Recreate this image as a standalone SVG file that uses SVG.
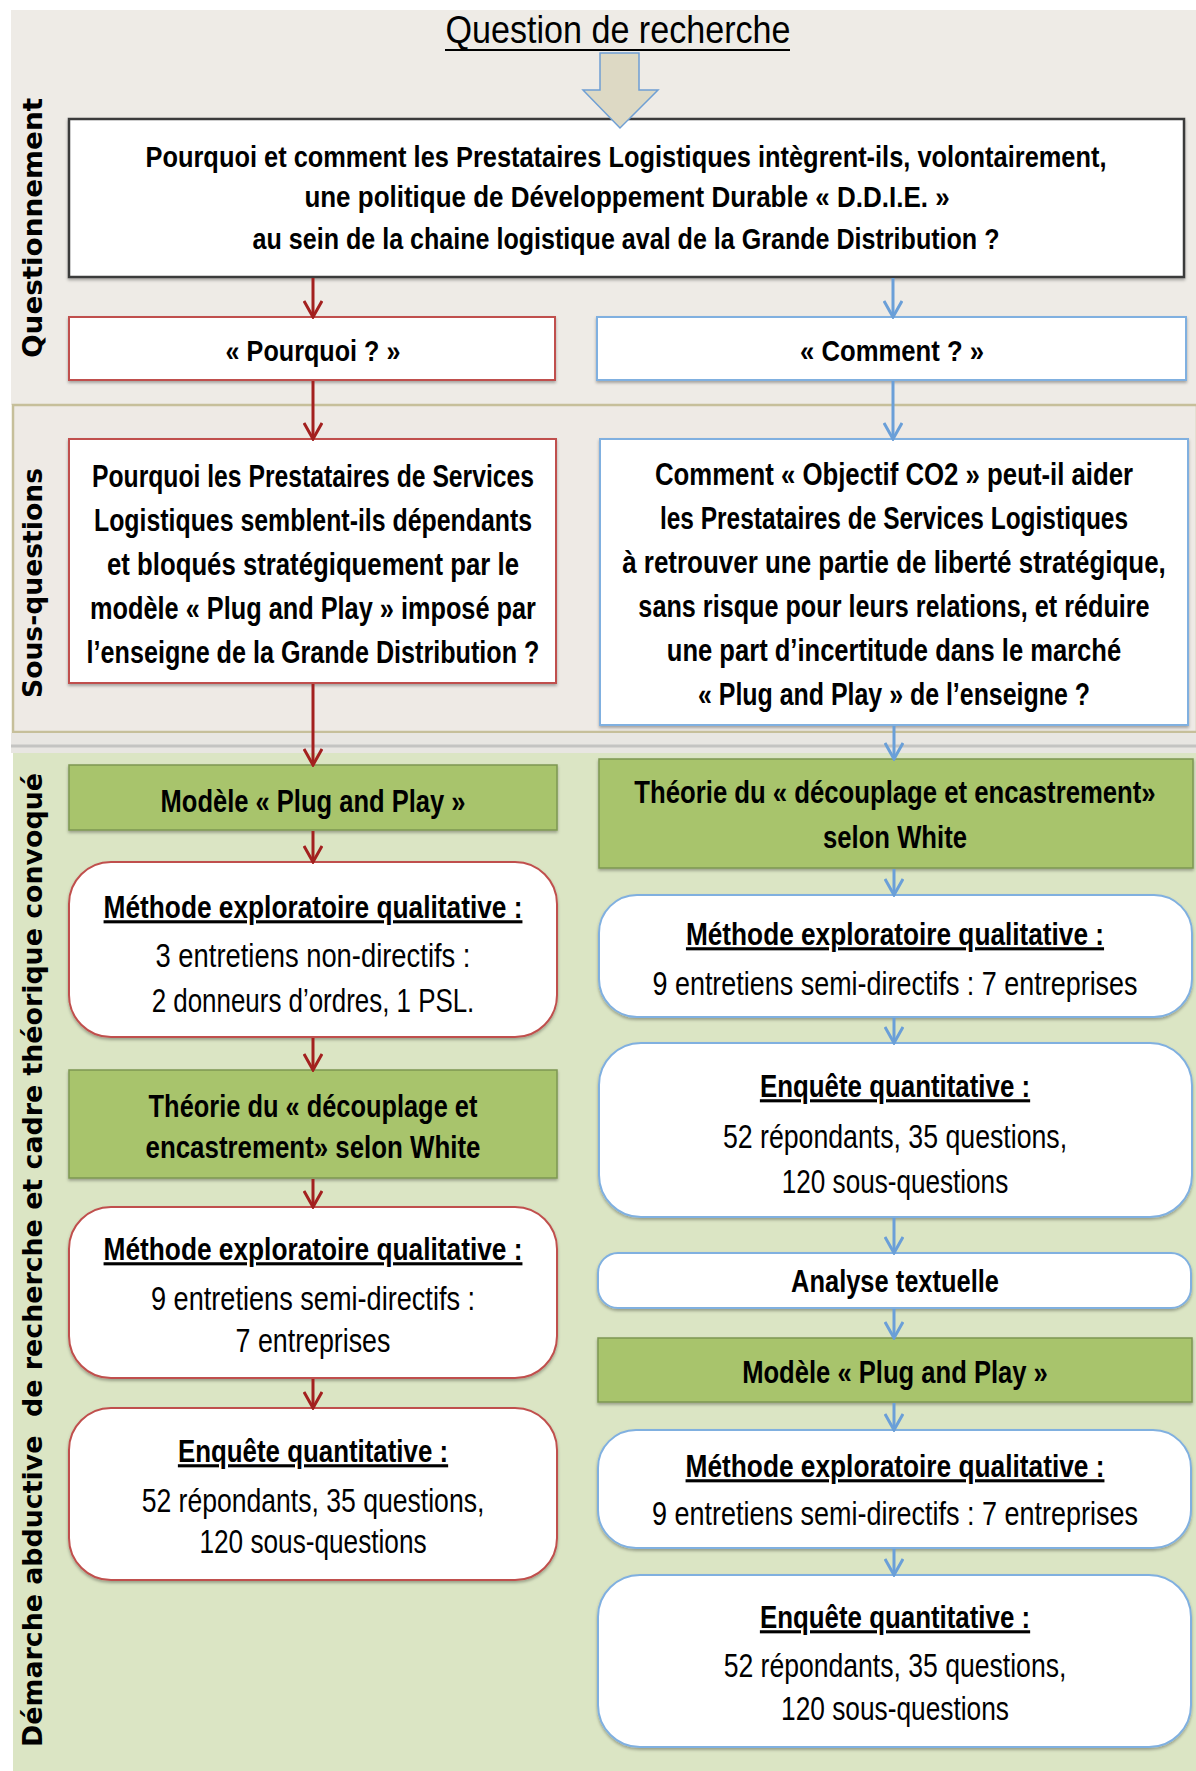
<svg xmlns="http://www.w3.org/2000/svg" width="1196" height="1771" viewBox="0 0 1196 1771">
<defs>
<style>
.t{font-family:"Liberation Sans Narrow","Liberation Sans",Arial,sans-serif;fill:#000;text-anchor:middle}
.b{font-weight:bold}
.u{text-decoration:underline}
.s28{font-size:29.5px}
.s30{font-size:31px}
.s31{font-size:31.5px}
.s32{font-size:33.5px}
.lab{font-family:"DejaVu Sans",Verdana,sans-serif;font-weight:bold;font-size:26px;fill:#000;text-anchor:middle;white-space:pre}
.red{fill:#fff;stroke:#c0504d;stroke-width:2}
.blue{fill:#fff;stroke:#80b0e0;stroke-width:2}
.green{fill:#a8c46c;stroke:#7d9752;stroke-width:1.5}
.cr{stroke:#a3201f;stroke-width:3;fill:none;marker-end:url(#mr)}
.cb{stroke:#6a9fd8;stroke-width:3;fill:none;marker-end:url(#mb)}
</style>
<marker id="mr" viewBox="0 0 20 20" refX="18" refY="10" markerWidth="20" markerHeight="20" markerUnits="userSpaceOnUse" orient="auto">
<path d="M2,1 L18,10 L2,19" fill="none" stroke="#a3201f" stroke-width="3"/>
</marker>
<marker id="mb" viewBox="0 0 20 20" refX="18" refY="10" markerWidth="20" markerHeight="20" markerUnits="userSpaceOnUse" orient="auto">
<path d="M2,1 L18,10 L2,19" fill="none" stroke="#6a9fd8" stroke-width="3"/>
</marker>
<filter id="sh" x="-5%" y="-10%" width="110%" height="130%">
<feDropShadow dx="0" dy="2" stdDeviation="1.5" flood-color="#000" flood-opacity="0.3"/>
</filter>
</defs>

<g id="panels">
<rect x="0" y="0" width="1196" height="1771" fill="#ffffff"/>
<rect x="11" y="10" width="1185" height="395" fill="#eeebe6"/>
<rect x="13" y="405" width="1184" height="327" fill="#eeeae5" stroke="#c6bf9a" stroke-width="2.5"/>
<rect x="11" y="733" width="1185" height="20" fill="#e8e6e2"/>
<line x1="11" y1="746" x2="1196" y2="746" stroke="#c4c4c2" stroke-width="3"/>
<rect x="13" y="753" width="1183" height="1018" fill="#dbe5c4"/>
</g>

<g id="labels">
<text class="lab" transform="translate(42,228) rotate(-90)" textLength="260" lengthAdjust="spacingAndGlyphs">Questionnement</text>
<text class="lab" transform="translate(42,583) rotate(-90)" textLength="230" lengthAdjust="spacingAndGlyphs">Sous-questions</text>
<text class="lab" transform="translate(42,1260) rotate(-90)" textLength="974" lengthAdjust="spacingAndGlyphs">Démarche abductive  de recherche et cadre théorique convoqué</text>
</g>

<g id="title">
<text class="t" transform="translate(618,43) scale(0.77,1)" style="font-size:38px" textLength="448" lengthAdjust="spacingAndGlyphs">Question de recherche</text>
<line x1="445" y1="50" x2="790" y2="50" stroke="#000" stroke-width="2"/>
</g>

<g id="main-question">
<rect x="69" y="119" width="1115" height="158" fill="#fff" stroke="#3a3a3a" stroke-width="2.5" filter="url(#sh)"/>
<text class="t b s28" transform="translate(626,167) scale(0.77,1)" textLength="1248" lengthAdjust="spacingAndGlyphs">Pourquoi et comment les Prestataires Logistiques intègrent-ils, volontairement,</text>
<text class="t b s28" transform="translate(627,207) scale(0.77,1)" textLength="838" lengthAdjust="spacingAndGlyphs">une politique de Développement Durable « D.D.I.E. »</text>
<text class="t b s28" transform="translate(626,249) scale(0.77,1)" textLength="970" lengthAdjust="spacingAndGlyphs">au sein de la chaine logistique aval de la Grande Distribution ?</text>
</g>

<g id="big-arrow">
<polygon points="600,53 639,53 639,90 658,90 620,128 583,90 600,90" fill="#ddd9c4" stroke="#6f9fd4" stroke-width="1.5"/>
</g>

<g id="pourquoi">
<rect class="red" x="69" y="317" width="486" height="63" filter="url(#sh)"/>
<text class="t b s28" transform="translate(313,361) scale(0.77,1)" textLength="227" lengthAdjust="spacingAndGlyphs">« Pourquoi ? »</text>
</g>
<g id="comment">
<rect class="blue" x="597" y="317" width="589" height="63" filter="url(#sh)"/>
<text class="t b s28" transform="translate(892,361) scale(0.77,1)" textLength="239" lengthAdjust="spacingAndGlyphs">« Comment ? »</text>
</g>

<g id="sq-left">
<rect class="red" x="69" y="439" width="487" height="244" filter="url(#sh)"/>
<text class="t b s31" transform="translate(313,487) scale(0.77,1)" textLength="574" lengthAdjust="spacingAndGlyphs">Pourquoi les Prestataires de Services</text>
<text class="t b s31" transform="translate(313,531) scale(0.77,1)" textLength="569" lengthAdjust="spacingAndGlyphs">Logistiques semblent-ils dépendants</text>
<text class="t b s31" transform="translate(313,575) scale(0.77,1)" textLength="535" lengthAdjust="spacingAndGlyphs">et bloqués stratégiquement par le</text>
<text class="t b s31" transform="translate(313,619) scale(0.77,1)" textLength="579" lengthAdjust="spacingAndGlyphs">modèle « Plug and Play » imposé par</text>
<text class="t b s31" transform="translate(313,663) scale(0.77,1)" textLength="588" lengthAdjust="spacingAndGlyphs">l’enseigne de la Grande Distribution ?</text>
</g>

<g id="sq-right">
<rect class="blue" x="600" y="439" width="588" height="286" filter="url(#sh)"/>
<text class="t b s31" transform="translate(894,485) scale(0.77,1)" textLength="621" lengthAdjust="spacingAndGlyphs">Comment « Objectif CO2 » peut-il aider</text>
<text class="t b s31" transform="translate(894,529) scale(0.77,1)" textLength="608" lengthAdjust="spacingAndGlyphs">les Prestataires de Services Logistiques</text>
<text class="t b s31" transform="translate(894,573) scale(0.77,1)" textLength="706" lengthAdjust="spacingAndGlyphs">à retrouver une partie de liberté stratégique,</text>
<text class="t b s31" transform="translate(894,617) scale(0.77,1)" textLength="664" lengthAdjust="spacingAndGlyphs">sans risque pour leurs relations, et réduire</text>
<text class="t b s31" transform="translate(894,661) scale(0.77,1)" textLength="590" lengthAdjust="spacingAndGlyphs">une part d’incertitude dans le marché</text>
<text class="t b s31" transform="translate(894,705) scale(0.77,1)" textLength="509" lengthAdjust="spacingAndGlyphs">« Plug and Play » de l’enseigne ?</text>
</g>

<g id="l-modele">
<rect class="green" x="69" y="765" width="488" height="65" filter="url(#sh)"/>
<text class="t b s30" transform="translate(313,812) scale(0.77,1)" textLength="396" lengthAdjust="spacingAndGlyphs">Modèle « Plug and Play »</text>
</g>
<g id="l-methode1">
<rect class="red" x="69" y="862" width="488" height="175" rx="42" filter="url(#sh)"/>
<text class="t b u s30" transform="translate(313,918) scale(0.77,1)" textLength="544" lengthAdjust="spacingAndGlyphs">Méthode exploratoire qualitative :</text>
<text class="t s32" transform="translate(313,967) scale(0.77,1)" textLength="409" lengthAdjust="spacingAndGlyphs">3 entretiens non-directifs :</text>
<text class="t s32" transform="translate(313,1012) scale(0.77,1)" textLength="419" lengthAdjust="spacingAndGlyphs">2 donneurs d’ordres, 1 PSL.</text>
</g>
<g id="l-theorie">
<rect class="green" x="69" y="1070" width="488" height="108" filter="url(#sh)"/>
<text class="t b s30" transform="translate(313,1117) scale(0.77,1)" textLength="427" lengthAdjust="spacingAndGlyphs">Théorie du « découplage et</text>
<text class="t b s30" transform="translate(313,1158) scale(0.77,1)" textLength="435" lengthAdjust="spacingAndGlyphs">encastrement» selon White</text>
</g>
<g id="l-methode2">
<rect class="red" x="69" y="1207" width="488" height="171" rx="42" filter="url(#sh)"/>
<text class="t b u s30" transform="translate(313,1260) scale(0.77,1)" textLength="544" lengthAdjust="spacingAndGlyphs">Méthode exploratoire qualitative :</text>
<text class="t s32" transform="translate(313,1310) scale(0.77,1)" textLength="421" lengthAdjust="spacingAndGlyphs">9 entretiens semi-directifs :</text>
<text class="t s32" transform="translate(313,1352) scale(0.77,1)" textLength="201" lengthAdjust="spacingAndGlyphs">7 entreprises</text>
</g>
<g id="l-enquete">
<rect class="red" x="69" y="1408" width="488" height="172" rx="42" filter="url(#sh)"/>
<text class="t b u s30" transform="translate(313,1462) scale(0.77,1)" textLength="351" lengthAdjust="spacingAndGlyphs">Enquête quantitative :</text>
<text class="t s32" transform="translate(313,1512) scale(0.77,1)" textLength="445" lengthAdjust="spacingAndGlyphs">52 répondants, 35 questions,</text>
<text class="t s32" transform="translate(313,1553) scale(0.77,1)" textLength="295" lengthAdjust="spacingAndGlyphs">120 sous-questions</text>
</g>

<g id="r-theorie">
<rect class="green" x="599" y="759" width="594" height="109" filter="url(#sh)"/>
<text class="t b s30" transform="translate(895,803) scale(0.77,1)" textLength="677" lengthAdjust="spacingAndGlyphs">Théorie du « découplage et encastrement»</text>
<text class="t b s30" transform="translate(895,848) scale(0.77,1)" textLength="187" lengthAdjust="spacingAndGlyphs">selon White</text>
</g>
<g id="r-methode1">
<rect class="blue" x="599" y="895" width="593" height="122" rx="38" filter="url(#sh)"/>
<text class="t b u s30" transform="translate(895,945) scale(0.77,1)" textLength="543" lengthAdjust="spacingAndGlyphs">Méthode exploratoire qualitative :</text>
<text class="t s32" transform="translate(895,995) scale(0.77,1)" textLength="630" lengthAdjust="spacingAndGlyphs">9 entretiens semi-directifs : 7 entreprises</text>
</g>
<g id="r-enquete1">
<rect class="blue" x="599" y="1043" width="593" height="174" rx="42" filter="url(#sh)"/>
<text class="t b u s30" transform="translate(895,1097) scale(0.77,1)" textLength="351" lengthAdjust="spacingAndGlyphs">Enquête quantitative :</text>
<text class="t s32" transform="translate(895,1148) scale(0.77,1)" textLength="447" lengthAdjust="spacingAndGlyphs">52 répondants, 35 questions,</text>
<text class="t s32" transform="translate(895,1193) scale(0.77,1)" textLength="294" lengthAdjust="spacingAndGlyphs">120 sous-questions</text>
</g>
<g id="r-analyse">
<rect class="blue" x="598" y="1253" width="593" height="55" rx="20" filter="url(#sh)"/>
<text class="t b s30" transform="translate(895,1292) scale(0.77,1)" textLength="270" lengthAdjust="spacingAndGlyphs">Analyse textuelle</text>
</g>
<g id="r-modele">
<rect class="green" x="598" y="1338" width="594" height="64" filter="url(#sh)"/>
<text class="t b s30" transform="translate(895,1383) scale(0.77,1)" textLength="397" lengthAdjust="spacingAndGlyphs">Modèle « Plug and Play »</text>
</g>
<g id="r-methode2">
<rect class="blue" x="598" y="1430" width="593" height="118" rx="38" filter="url(#sh)"/>
<text class="t b u s30" transform="translate(895,1477) scale(0.77,1)" textLength="544" lengthAdjust="spacingAndGlyphs">Méthode exploratoire qualitative :</text>
<text class="t s32" transform="translate(895,1525) scale(0.77,1)" textLength="631" lengthAdjust="spacingAndGlyphs">9 entretiens semi-directifs : 7 entreprises</text>
</g>
<g id="r-enquete2">
<rect class="blue" x="598" y="1575" width="593" height="172" rx="42" filter="url(#sh)"/>
<text class="t b u s30" transform="translate(895,1628) scale(0.77,1)" textLength="351" lengthAdjust="spacingAndGlyphs">Enquête quantitative :</text>
<text class="t s32" transform="translate(895,1677) scale(0.77,1)" textLength="445" lengthAdjust="spacingAndGlyphs">52 répondants, 35 questions,</text>
<text class="t s32" transform="translate(895,1720) scale(0.77,1)" textLength="296" lengthAdjust="spacingAndGlyphs">120 sous-questions</text>
</g>

<g id="connectors">
<line class="cr" x1="313" y1="278" x2="313" y2="317"/>
<line class="cr" x1="313" y1="381" x2="313" y2="439"/>
<line class="cr" x1="313" y1="684" x2="313" y2="765"/>
<line class="cr" x1="313" y1="831" x2="313" y2="862"/>
<line class="cr" x1="313" y1="1038" x2="313" y2="1070"/>
<line class="cr" x1="313" y1="1179" x2="313" y2="1207"/>
<line class="cr" x1="313" y1="1379" x2="313" y2="1408"/>
<line class="cb" x1="893" y1="278" x2="893" y2="317"/>
<line class="cb" x1="893" y1="381" x2="893" y2="439"/>
<line class="cb" x1="894" y1="726" x2="894" y2="759"/>
<line class="cb" x1="894" y1="869" x2="894" y2="895"/>
<line class="cb" x1="894" y1="1018" x2="894" y2="1043"/>
<line class="cb" x1="894" y1="1218" x2="894" y2="1253"/>
<line class="cb" x1="894" y1="1309" x2="894" y2="1338"/>
<line class="cb" x1="894" y1="1403" x2="894" y2="1430"/>
<line class="cb" x1="894" y1="1549" x2="894" y2="1575"/>
</g>
</svg>
